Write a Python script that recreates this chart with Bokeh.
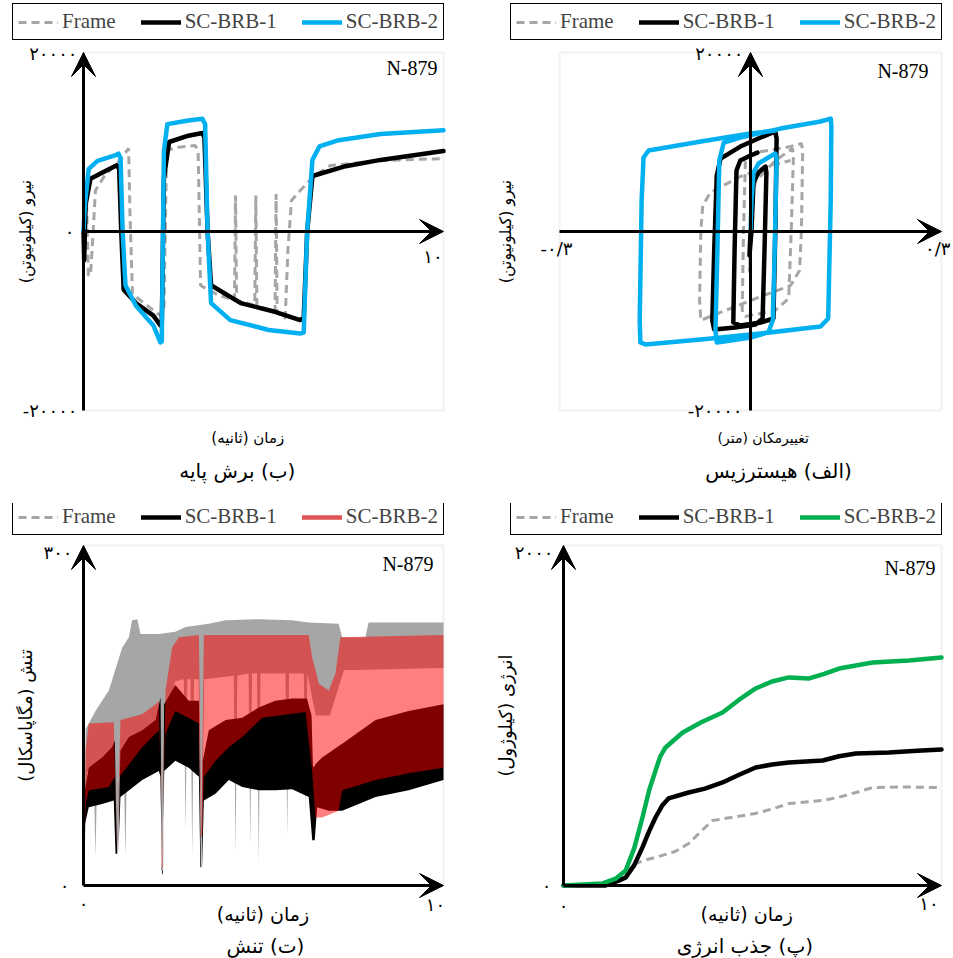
import math
from bokeh.plotting import figure
from bokeh.models import Arrow, VeeHead, Label, Legend, LegendItem, Range1d, BoxAnnotation
from bokeh.layouts import row, column
from bokeh.embed import file_html
from bokeh.resources import INLINE

# ---------------- data ----------------
series_names = ["Frame", "SC-BRB-1", "SC-BRB-2"]

# (b) base shear vs time
shear_t_frame = [0, 0.08, 0.14, 0.2, 0.28, 0.34, 0.6, 1.0, 1.29, 1.33, 1.4, 1.8, 2.2, 2.3, 2.38, 2.7, 3.2, 3.28,
                 3.35, 3.8, 4.32, 4.35, 4.38, 4.6, 4.9, 4.93, 4.96, 5.2, 5.48, 5.51, 5.54, 5.77, 5.85, 5.95, 6.2,
                 6.6, 7.06, 8.5, 10.3]
shear_frame = [0, 4500, -4900, -4900, 200, 4580, 6200, 7800, 9270, 2000, -7000, -8200, -9390, -9000, 9050, 9400,
               9600, 9000, -6030, -7000, -7710, 4020, -7710, -7900, -8270, 4020, -8270, -8600, -9000, 4200, -9000,
               -9720, -2000, 3460, 4580, 6200, 7370, 7930, 8150]
shear_t_brb1 = [0, 0.02, 0.06, 0.2, 0.6, 0.95, 1.02, 1.08, 1.15, 1.5, 2.0, 2.2, 2.24, 2.3, 2.45, 3.0, 3.4, 3.46,
                3.55, 3.65, 4.5, 5.5, 6.2, 6.3, 6.4, 6.55, 7.5, 8.5, 10.3]
shear_brb1 = [0, -3200, 3000, 5900, 6700, 7400, 7000, 0, -6500, -8000, -9400, -10500, -10300, 6000, 10000, 10700,
              11000, 10500, 0, -6000, -8000, -9000, -9900, -9700, 0, 6200, 7300, 8000, 9000]
shear_t_brb2 = [0, 0.04, 0.15, 0.4, 0.9, 1.0, 1.06, 1.12, 1.2, 1.5, 2.0, 2.2, 2.24, 2.3, 2.4, 3.0, 3.4, 3.48, 3.55,
                3.65, 4.2, 5.3, 6.2, 6.3, 6.4, 6.55, 6.75, 7.3, 8.5, 10.3]
shear_brb2 = [0, 3000, 7000, 7900, 8500, 8700, 8200, 0, -6000, -8300, -10500, -12400, -12300, 9000, 12000, 12400,
              12600, 12000, 0, -8000, -9900, -11000, -11400, -11300, 0, 8000, 9500, 10200, 10900, 11300]

# (alef) hysteresis: displacement (m) vs force (kN)
hyst_d_frame = [0, 0.003, -0.0016, 0.003, 0.009, 0.039, 0.066, 0.0675, 0.064, 0.06, 0.039, -0.008, -0.013, -0.011,
                -0.008, 0.008, 0.063, 0.08, 0.082, 0.08, 0.077, 0.063, 0, -0.071, -0.078, -0.08, -0.078, -0.075,
                -0.063, -0.016, 0.031, 0.063]
hyst_f_frame = [0, 4580, -4580, 4360, 5700, 7930, 9270, 8490, 110, -7480, -8820, -9490, -8820, 110, 7930, 8820,
                9490, 9830, 9050, 110, -4360, -6030, -7710, -9720, -9940, -7710, 110, 2900, 4360, 6140, 7370, 7930]
hyst_d_brb1 = [0, -0.0016, 0.0016, 0.0047, 0.0126, 0.0236, 0.025, 0.022, 0.019, 0.008, -0.024, -0.057, -0.06,
               -0.057, -0.053, -0.047, -0.016, 0.016, 0.039, 0.041, 0.039, 0.036, 0.016, -0.016, -0.027, -0.025,
               -0.022, -0.016, 0, 0.011]
hyst_f_brb1 = [0, -2680, 110, 5470, 6590, 7260, 6590, -2120, -9720, -10390, -10720, -10950, -9940, -2120, 6260,
               8150, 9490, 10500, 11170, 10390, 110, -9720, -10170, -10500, -10170, -2120, 6810, 7930, 8490, 8820]
hyst_d_brb2 = [0, 0.0016, 0.0047, 0.0126, 0.028, 0.039, 0.041, 0.038, 0.035, 0.028, 0, -0.031, -0.053, -0.055,
               -0.052, -0.049, -0.042, -0.016, 0.047, 0.11, 0.126, 0.127, 0.126, 0.122, 0.11, 0.016, -0.078,
               -0.165, -0.173, -0.174, -0.171, -0.168, -0.16, -0.078, 0, 0.039]
hyst_f_brb2 = [0, 3460, 6590, 7600, 8270, 8710, 8150, -2120, -9940, -11280, -11840, -12180, -12400, -11060,
               -2120, 7930, 9940, 10500, 11500, 12290, 12620, 11840, 3460, -9720, -10610, -11400, -12060, -12620,
               -12400, -9940, 3460, 8270, 9050, 10050, 10950, 11280]

# (te) stress bands vs time: upper / lower envelopes (MPa)
stress_t_frame_up = [0.01, 0.06, 0.15, 0.34, 0.72, 1.1, 1.29, 1.38, 1.53, 1.62, 2.14, 2.61, 2.9, 3.56, 4.04, 4.98,
                     5.93, 6.4, 7.25, 7.35, 8.01, 8.1, 9.24, 10.23]
stress_frame_up = [1, 138, 143, 154, 172, 210, 219, 234, 235, 222, 222, 224, 228, 231, 234, 235, 234, 232, 231,
                   219, 219, 232, 232, 232]
stress_t_frame_lo = [0.01, 0.1, 0.29, 0.34, 0.39, 0.85, 0.96, 1.07, 1.14, 1.19, 1.24, 2.0, 2.16, 2.24, 2.32, 2.6,
                     2.85, 2.9, 2.95, 3.04, 3.09, 3.14, 3.27, 3.35, 3.43, 4.27, 4.32, 4.37, 4.69, 4.74, 4.79, 4.93,
                     4.98, 5.03, 5.74, 5.79, 5.84, 6.26, 6.31, 6.36, 6.6, 7.0, 7.4, 10.23]
stress_frame_lo = [1, 100, 100, 25, 100, 105, 28, 110, 115, 25, 115, 130, 130, 13, 130, 180, 182, 48, 182, 182,
                   25, 182, 182, 16, 182, 185, 28, 185, 187, 34, 187, 187, 19, 187, 187, 43, 187, 187, 64, 187,
                   150, 150, 190, 192]
stress_t_brb1_up = [0.01, 0.04, 0.15, 0.53, 0.81, 0.89, 0.93, 0.96, 0.99, 1.02, 1.05, 1.29, 1.67, 2.05, 2.19,
                    2.22, 2.24, 2.26, 2.29, 2.61, 2.99, 3.28, 3.32, 3.34, 3.36, 3.39, 3.56, 4.04, 4.51, 4.98, 5.45,
                    5.93, 6.35, 6.48, 6.52, 6.57, 6.59, 6.78, 7.35, 8.3, 9.24, 10.23]
stress_brb1_up = [1, 84, 104, 113, 122, 128, 60, 28, 28, 80, 119, 131, 137, 146, 166, 20, 10, 10, 160, 177, 163,
                  163, 60, 16, 16, 110, 137, 146, 148, 157, 163, 165, 165, 150, 105, 105, 107, 113, 125, 146, 154,
                  160]
stress_t_brb1_lo = [0.01, 0.04, 0.15, 0.53, 0.86, 0.91, 0.99, 1.05, 1.67, 2.14, 2.19, 2.22, 2.25, 2.29, 2.61,
                    2.99, 3.28, 3.32, 3.37, 3.42, 3.75, 4.13, 4.51, 4.98, 5.45, 5.93, 6.4, 6.5, 6.57, 6.64, 6.97,
                    7.35, 7.82, 8.3, 9.24, 10.23]
stress_brb1_lo = [1, 54, 69, 72, 75, 28, 28, 78, 93, 101, 96, 13, 13, 101, 110, 104, 96, 16, 16, 75, 81, 93, 87,
                  84, 84, 85, 78, 40, 40, 69, 66, 66, 72, 78, 84, 93]
stress_t_brb2_up = [0.01, 0.06, 0.15, 0.86, 0.91, 0.96, 1.0, 1.05, 1.67, 2.05, 2.14, 2.19, 2.24, 2.28, 2.33, 2.52,
                    2.71, 3.28, 3.32, 3.35, 3.38, 3.42, 6.4, 6.5, 6.69, 6.97, 7.16, 7.3, 10.23]
stress_brb2_up = [1, 119, 143, 144, 84, 31, 84, 146, 151, 160, 163, 84, 16, 84, 172, 210, 219, 221, 120, 43, 120,
                  221, 221, 201, 178, 172, 187, 219, 221]
stress_t_brb2_lo = [0.01, 0.06, 0.15, 0.72, 0.89, 0.96, 1.02, 1.67, 2.14, 2.19, 2.22, 2.25, 2.29, 2.61, 3.28,
                    3.34, 3.37, 3.42, 3.75, 4.13, 4.51, 5.08, 6.31, 6.5, 6.59, 6.78, 7.25, 7.35, 8.3, 9.24, 10.23]
stress_brb2_lo = [1, 72, 84, 87, 96, 28, 96, 122, 137, 100, 16, 16, 131, 154, 143, 43, 43, 96, 110, 122, 131, 148,
                  153, 100, 60, 60, 66, 84, 93, 99, 104]

# (pe) absorbed energy vs time (kJ)
energy_t_frame = [0, 1.13, 1.5, 1.94, 2.2, 2.47, 3.0, 3.36, 3.7, 4.0, 4.5, 5.16, 5.6, 6.05, 6.96, 7.4, 7.85, 8.3,
                  9.0, 10.1]
energy_frame = [0, 0, 40, 129, 150, 165, 200, 247, 320, 382, 400, 424, 450, 482, 500, 520, 547, 576, 580, 576]
energy_t_brb1 = [0, 1.13, 1.5, 1.67, 1.9, 2.12, 2.3, 2.47, 2.65, 2.82, 3.36, 3.8, 4.27, 4.7, 5.16, 5.6, 6.05, 6.96,
                 7.4, 7.85, 8.74, 9.5, 10.15]
energy_brb1 = [0, 0, 30, 47, 120, 224, 320, 400, 470, 512, 547, 570, 606, 650, 694, 712, 724, 735, 760, 776, 782,
               792, 800]
energy_t_brb2 = [0, 1.05, 1.4, 1.67, 1.9, 2.12, 2.3, 2.47, 2.6, 2.74, 3.2, 3.7, 4.27, 4.7, 5.16, 5.6, 6.05, 6.6,
                 7.0, 7.4, 8.3, 9.27, 10.15]
energy_brb2 = [0, 12, 40, 88, 220, 400, 560, 676, 760, 812, 900, 960, 1018, 1090, 1159, 1200, 1224, 1218, 1245,
               1276, 1312, 1324, 1341]

# tick labels
shear_ticks = ["۲۰۰۰۰", "-۲۰۰۰۰", "۰", "۱۰"]
hyst_ticks = ["۲۰۰۰۰", "-۲۰۰۰۰", "-۰/۳", "۰/۳"]
stress_ticks = ["۳۰۰", "۰", "۰", "۱۰"]
energy_ticks = ["۲۰۰۰", "۰", "۰", "۱۰"]

# ---------------- style ----------------
FA = "DejaVu Sans"
SERIF = "Liberation Serif"
GRAY = "#a6a6a6"
BLUE = "#00b0f0"
GREEN = "#00b050"
NAN = float("nan")


def rtl(s):
    return "\u202b" + s + "\u202c"


def make_fig(w, h, frame_px, xr, yr):
    """Frame occupies the whole canvas; data box xr x yr is placed at pixel box frame_px."""
    fl, fr, ft, fb = frame_px
    sx = (xr[1] - xr[0]) / (fr - fl)
    sy = (yr[1] - yr[0]) / (fb - ft)
    x0 = xr[0] - fl * sx
    x1 = xr[1] + (w - fr) * sx
    y1 = yr[1] + ft * sy
    y0 = yr[0] - (h - fb) * sy
    p = figure(width=w, height=h, x_range=Range1d(x0, x1), y_range=Range1d(y0, y1),
               output_backend="svg", toolbar_location=None, title=None,
               x_axis_location=None, y_axis_location=None,
               min_border_left=0, min_border_right=0, min_border_top=0, min_border_bottom=0)
    p.grid.visible = False
    p.outline_line_color = None
    p.background_fill_color = "white"
    p.border_fill_color = "white"
    p.add_layout(BoxAnnotation(left=xr[0], right=xr[1], bottom=yr[0], top=yr[1],
                               fill_color=None, fill_alpha=0, line_color="#d6d6d6", line_width=2.5,
                               level="underlay"))
    return p


def arrow(p, x0, y0, x1, y1):
    p.add_layout(Arrow(end=VeeHead(size=24, fill_color="black", line_color="black", line_width=1),
                       x_start=x0, y_start=y0, x_end=x1, y_end=y1, line_width=3, line_color="black"))


def lab(p, text, x, y, xo=0, yo=0, size=15, font=FA, align="center", baseline="middle", angle=0):
    p.add_layout(Label(x=x, y=y, x_offset=xo, y_offset=yo, text=text, text_font=font,
                       text_font_size=f"{size}px", text_align=align, text_baseline=baseline,
                       angle=angle, text_color="black"))


def legend(p, rends, loc):
    items = [LegendItem(label=n, renderers=[r]) for n, r in zip(series_names, rends)]
    lg = Legend(items=items, location=loc, orientation="horizontal",
                border_line_color="black", border_line_width=1.5, border_line_alpha=1,
                background_fill_color="white", background_fill_alpha=1,
                label_text_font=SERIF, label_text_font_size="21px", label_height=20,
                glyph_width=40, glyph_height=20, label_standoff=4, spacing=25, padding=5, margin=0)
    p.add_layout(lg)


def lines(p, xs, ys, third_color):
    r0 = p.line(xs[0], ys[0], line_color=GRAY, line_width=3, line_dash="8 5")
    r1 = p.line(xs[1], ys[1], line_color="black", line_width=4.5, line_cap="round", line_join="round")
    r2 = p.line(xs[2], ys[2], line_color=third_color, line_width=4.5, line_cap="round", line_join="round")
    return [r0, r1, r2]


TOP_H = 503
BOT_H = 455
LEFT_W = 478
RIGHT_W = 474
TICK = 18

# ---------------- (b) base shear ----------------
p1 = make_fig(LEFT_W, TOP_H, (83, 443, 52, 410), (0, 10.3), (-20000, 20000))
r = lines(p1, [shear_t_frame, shear_t_brb1, shear_t_brb2], [shear_frame, shear_brb1, shear_brb2], BLUE)
arrow(p1, 0, -20000, 0, 20000)
arrow(p1, 0, 0, 10.3, 0)
legend(p1, r, (12, TOP_H - 40))
lab(p1, shear_ticks[0], 0, 20000, xo=-6, yo=-1, align="right", size=TICK)
lab(p1, shear_ticks[1], 0, -20000, xo=-6, align="right", size=TICK)
lab(p1, shear_ticks[2], 0, 0, xo=-9, align="right", size=TICK)
lab(p1, shear_ticks[3], 10, 0, yo=-25, size=TICK)
lab(p1, rtl("نیرو (کیلونیوتن)"), 0, 0, xo=-58, angle=math.pi / 2, size=16)
lab(p1, rtl("زمان (ثانیه)"), 4.7, -20000, yo=-27, size=15)
lab(p1, rtl("(ب) برش پایه"), 4.4, -20000, yo=-60, size=20)
lab(p1, "N-879", 10.3, 20000, xo=-6, yo=-15, align="right", font=SERIF, size=20)

# ---------------- (alef) hysteresis ----------------
p2 = make_fig(RIGHT_W, TOP_H, (81, 463, 52, 410), (-0.3, 0.3), (-20000, 20000))
r = lines(p2, [hyst_d_frame, hyst_d_brb1, hyst_d_brb2], [hyst_f_frame, hyst_f_brb1, hyst_f_brb2], BLUE)
arrow(p2, 0, -20000, 0, 20000)
arrow(p2, -0.3, 0, 0.3, 0)
legend(p2, r, (32, TOP_H - 40))
lab(p2, hyst_ticks[0], 0, 20000, xo=-7, yo=-1, align="right", size=TICK)
lab(p2, hyst_ticks[1], 0, -20000, xo=-8, align="right", size=TICK)
lab(p2, hyst_ticks[2], -0.3, 0, xo=-3, yo=-17, size=TICK)
lab(p2, hyst_ticks[3], 0.3, 0, xo=9, yo=-17, align="right", size=TICK)
lab(p2, rtl("نیرو (کیلونیوتن)"), -0.3, 0, xo=-54, angle=math.pi / 2, size=16)
lab(p2, rtl("تغییرمکان (متر)"), 0.02, -20000, yo=-27, size=14)
lab(p2, rtl("(الف) هیسترزیس"), 0.044, -20000, yo=-60, size=20)
lab(p2, "N-879", 0.3, 20000, xo=-13, yo=-18, align="right", font=SERIF, size=20)

# ---------------- (te) stress ----------------
p3 = make_fig(LEFT_W, BOT_H, (83, 443, 42, 382), (0, 10.23), (0, 300))
p3.patch(stress_t_frame_up + stress_t_frame_lo[::-1], stress_frame_up + stress_frame_lo[::-1],
         fill_color=GRAY, line_color=None)
p3.patch(stress_t_brb1_up + stress_t_brb1_lo[::-1], stress_brb1_up + stress_brb1_lo[::-1],
         fill_color="black", line_color=None)
p3.patch(stress_t_brb2_up + stress_t_brb2_lo[::-1], stress_brb2_up + stress_brb2_lo[::-1],
         fill_color="#ff0000", fill_alpha=0.5, line_color=None)
d0 = p3.line([NAN], [NAN], line_color=GRAY, line_width=3, line_dash="8 5")
d1 = p3.line([NAN], [NAN], line_color="black", line_width=4.5, line_cap="round")
d2 = p3.line([NAN], [NAN], line_color="#e05555", line_width=4.5, line_cap="round")
arrow(p3, 0, 0, 0, 300)
arrow(p3, 0, 0, 10.23, 0)
legend(p3, [d0, d1, d2], (12, BOT_H - 32))
lab(p3, stress_ticks[0], 0, 300, xo=-11, yo=-7, align="right", size=TICK)
lab(p3, stress_ticks[1], 0, 0, xo=-14, align="right", size=TICK)
lab(p3, stress_ticks[2], 0, 0, yo=-18, size=TICK)
lab(p3, stress_ticks[3], 10, 0, yo=-19, size=TICK)
lab(p3, rtl("تنش (مگاپاسکال)"), 0, 150, xo=-58, angle=math.pi / 2, size=18)
lab(p3, rtl("زمان (ثانیه)"), 5.1, 0, yo=-28, size=19)
lab(p3, rtl("(ت) تنش"), 5.17, 0, yo=-60, size=20)
lab(p3, "N-879", 10.23, 300, xo=-10, yo=-18, align="right", font=SERIF, size=20)

# ---------------- (pe) energy ----------------
p4 = make_fig(RIGHT_W, BOT_H, (85, 463, 42, 382), (0, 10.15), (0, 2000))
r = lines(p4, [energy_t_frame, energy_t_brb1, energy_t_brb2], [energy_frame, energy_brb1, energy_brb2], GREEN)
arrow(p4, 0, 0, 0, 2000)
arrow(p4, 0, 0, 10.15, 0)
legend(p4, r, (32, BOT_H - 32))
lab(p4, energy_ticks[0], 0, 2000, xo=-10, yo=-7, align="right", size=TICK)
lab(p4, energy_ticks[1], 0, 0, xo=-12, align="right", size=TICK)
lab(p4, energy_ticks[2], 0, 0, yo=-20, size=TICK)
lab(p4, energy_ticks[3], 10, 0, xo=-7, yo=-18, size=TICK)
lab(p4, rtl("انرژی (کیلوژول)"), 0, 1000, xo=-58, angle=math.pi / 2, size=18)
lab(p4, rtl("زمان (ثانیه)"), 4.92, 0, yo=-28, size=19)
lab(p4, rtl("(پ) جذب انرژی"), 4.87, 0, yo=-60, size=20)
lab(p4, "N-879", 10.15, 2000, xo=-6, yo=-22, align="right", font=SERIF, size=20)

layout = column(row(p1, p2), row(p3, p4))
open("out.html", "w").write(file_html(layout, INLINE))
